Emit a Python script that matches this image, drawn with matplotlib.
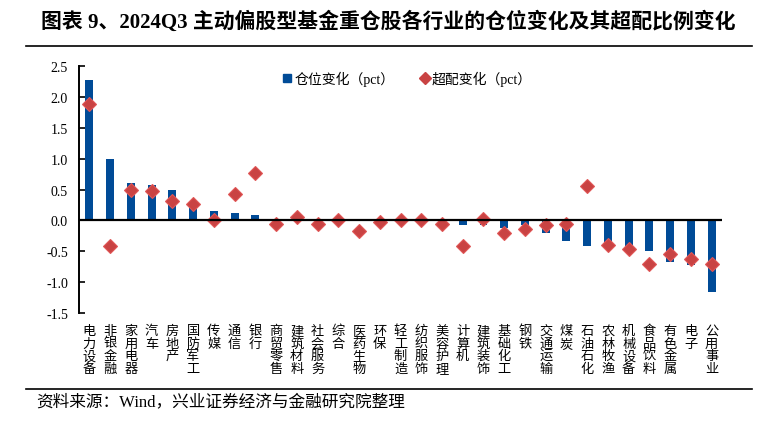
import matplotlib
matplotlib.use("Agg")
import matplotlib.pyplot as plt
from matplotlib.lines import Line2D
import numpy as np

plt.rcParams['font.family'] = ['Liberation Serif', 'Noto Sans CJK SC', 'DejaVu Sans']
plt.rcParams['axes.unicode_minus'] = False

industries = ["电力设备", "非银金融", "家用电器", "汽车", "房地产", "国防军工", "传媒", "通信",
              "银行", "商贸零售", "建筑材料", "社会服务", "综合", "医药生物", "环保", "轻工制造",
              "纺织服饰", "美容护理", "计算机", "建筑装饰", "基础化工", "钢铁", "交通运输", "煤炭",
              "石油石化", "农林牧渔", "机械设备", "食品饮料", "有色金属", "电子", "公用事业"]
position_change = [2.27, 1.00, 0.61, 0.58, 0.50, 0.23, 0.16, 0.125, 0.08, 0.02, 0.01, -0.01,
                   0.0, -0.01, -0.01, -0.01, -0.01, -0.02, -0.08, -0.08, -0.13, -0.08, -0.21,
                   -0.34, -0.42, -0.37, -0.45, -0.50, -0.68, -0.715, -1.16]
overweight_change = [1.89, -0.41, 0.50, 0.48, 0.31, 0.26, 0.01, 0.42, 0.76, -0.05, 0.05, -0.05,
                     0.0, -0.17, -0.03, 0.0, 0.0, -0.06, -0.41, 0.03, -0.21, -0.135, -0.08,
                     -0.065, 0.55, -0.39, -0.455, -0.70, -0.55, -0.63, -0.70]

bar_color = "#004B97"
dot_color = "#C94343"

fig = plt.figure(figsize=(7.77, 4.35), dpi=100)
ax = fig.add_axes([0.1017, 0.278, 0.8275, 0.568])

x = np.arange(len(industries))
ax.bar(x, position_change, width=0.38, color=bar_color, zorder=2)
ax.plot(x, overweight_change, linestyle="none", marker="D", markersize=7,
        markerfacecolor=dot_color, markeredgecolor="#E05555", markeredgewidth=0.8, zorder=3)
ax.axhline(0, color="black", linewidth=1.6, zorder=4)

ax.set_xlim(-0.5, len(industries) - 0.5)
ax.set_ylim(-1.5, 2.5)
ax.set_yticks(np.arange(-1.5, 2.51, 0.5))
ax.set_yticklabels([f"{v:.1f}" for v in np.arange(-1.5, 2.51, 0.5)], fontsize=10)
ax.tick_params(axis="y", direction="in", length=4, width=1.2, pad=8)

ax.set_xticks(x)
ax.set_xticklabels(["\n".join(n) for n in industries], fontsize=9.5,
                   family=["Noto Sans CJK SC"])
for lbl in ax.get_xticklabels():
    lbl.set_linespacing(0.95)
ax.tick_params(axis="x", length=0, pad=8)

for side in ["top", "right", "bottom"]:
    ax.spines[side].set_visible(False)
ax.spines["left"].set_linewidth(1.4)

handles = [Line2D([], [], linestyle="none", marker="s", markersize=6, color=bar_color),
           Line2D([], [], linestyle="none", marker="D", markersize=6, color=dot_color)]
ax.legend(handles, ["仓位变化（pct）", "超配变化（pct）"], loc="upper center",
          bbox_to_anchor=(0.51, 1.03), ncol=2, frameon=False, fontsize=10,
          handletextpad=0.1, columnspacing=1.8, handlelength=0.8)

fig.text(0.5, 0.95, "图表 9、2024Q3 主动偏股型基金重仓股各行业的仓位变化及其超配比例变化",
         ha="center", va="center", fontsize=15, fontweight="bold")
fig.add_artist(Line2D([0.033, 0.968], [0.892, 0.892], color="black", linewidth=1.2))
fig.add_artist(Line2D([0.033, 0.968], [0.103, 0.103], color="black", linewidth=1.2))
fig.text(0.046, 0.076, "资料来源：Wind，兴业证券经济与金融研究院整理",
         ha="left", va="center", fontsize=12)

fig.savefig("out.png", dpi=100)
